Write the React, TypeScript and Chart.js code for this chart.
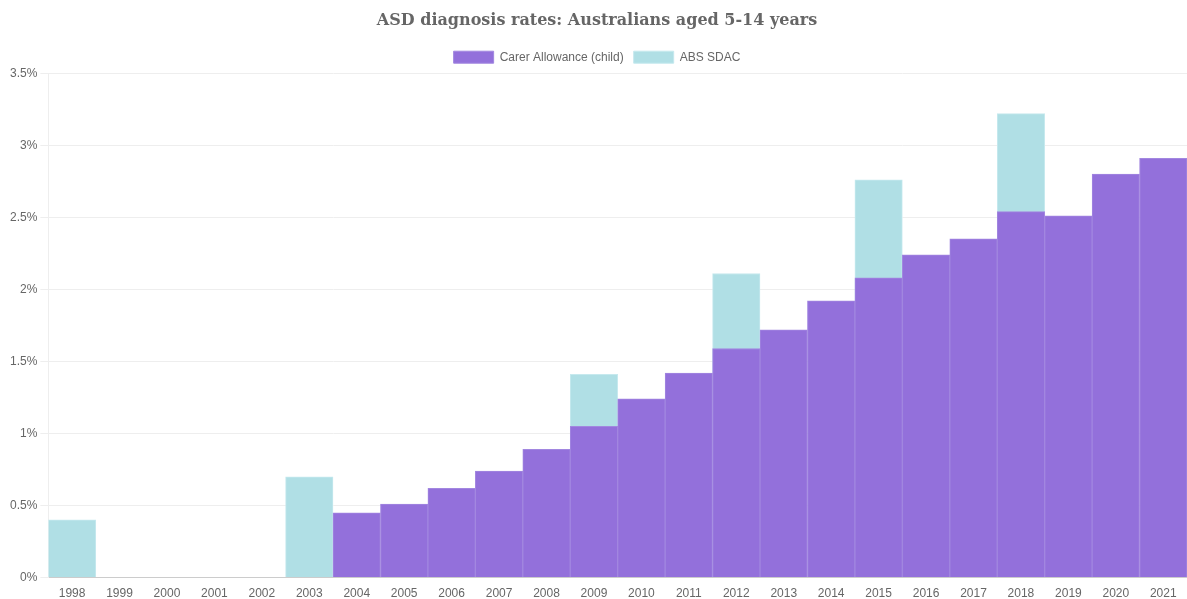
import React, { useEffect, useRef } from "react";
import { Chart, registerables } from "chart.js";

Chart.register(...registerables);

const years = [
  "1998", "1999", "2000", "2001", "2002", "2003", "2004", "2005", "2006", "2007", "2008", "2009",
  "2010", "2011", "2012", "2013", "2014", "2015", "2016", "2017", "2018", "2019", "2020", "2021",
];

const carerAllowance = [
  null, null, null, null, null, null, 0.45, 0.51, 0.62, 0.74, 0.89, 1.05,
  1.24, 1.42, 1.59, 1.72, 1.92, 2.08, 2.24, 2.35, 2.54, 2.51, 2.8, 2.91,
];

const absSdac = [
  0.4, null, null, null, null, 0.7, null, null, null, null, null, 1.41,
  null, null, 2.11, null, null, 2.76, null, null, 3.22, null, null, null,
];

const yTicks = [0, 0.5, 1, 1.5, 2, 2.5, 3, 3.5];

export default function App() {
  const ref = useRef<HTMLCanvasElement | null>(null);

  useEffect(() => {
    document.body.style.margin = "0";
    if (!ref.current) return;
    const chart = new Chart(ref.current, {
      type: "bar",
      data: {
        labels: years,
        datasets: [
          {
            label: "Carer Allowance (child)",
            data: carerAllowance,
            backgroundColor: "#9370DB",
            borderColor: "#A287E0",
            borderWidth: 1,
            barPercentage: 1,
            categoryPercentage: 1,
          },
          {
            label: "ABS SDAC",
            data: absSdac,
            backgroundColor: "#B0DFE5",
            borderColor: "#C6E9EE",
            borderWidth: 1,
            barPercentage: 1,
            categoryPercentage: 1,
          },
        ],
      },
      options: {
        animation: false,
        responsive: true,
        maintainAspectRatio: false,
        layout: { padding: { left: 7, right: 0, top: 0, bottom: -3 } },
        plugins: {
          title: {
            display: true,
            text: "ASD diagnosis rates: Australians aged 5-14 years",
            color: "#666",
            font: { family: "'DejaVu Serif', Georgia, serif", size: 16, weight: "bold" },
            padding: { top: 11, bottom: 11 },
          },
          legend: {
            labels: {
              color: "#666",
              boxWidth: 40,
              boxHeight: 12,
              font: { family: "'Liberation Sans', Arial, sans-serif", size: 12 },
            },
          },
          tooltip: { enabled: false },
        },
        scales: {
          x: {
            stacked: true,
            grid: { display: false },
            border: { color: "#ccc" },
            ticks: {
              color: "#666",
              padding: 1,
              font: { family: "'Liberation Sans', Arial, sans-serif", size: 12 },
              maxRotation: 0,
              autoSkip: false,
            },
          },
          y: {
            stacked: false,
            min: 0,
            max: 3.5,
            afterBuildTicks: (axis: any) => {
              axis.ticks = yTicks.map((v) => ({ value: v }));
            },
            grid: { color: "#eee" },
            border: { color: "#eee" },
            ticks: {
              color: "#666",
              font: { family: "'Liberation Sans', Arial, sans-serif", size: 12 },
              callback: (v: any) => `${v}%`,
            },
          },
        },
      },
    });
    return () => chart.destroy();
  }, []);

  return (
    <div style={{ width: 1187, height: 599, position: "relative" }}>
      <canvas ref={ref} />
    </div>
  );
}
